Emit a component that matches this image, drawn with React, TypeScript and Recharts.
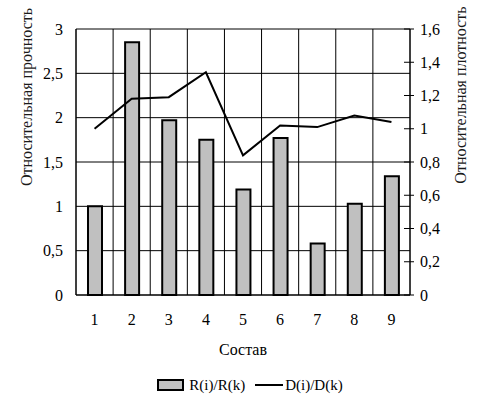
import React from "react";
import { ComposedChart, Bar, Line, XAxis, YAxis, CartesianGrid, Legend } from "recharts";

// Относительная прочность (bars, left axis) и плотность (line, right axis) по составам.

const categories = ["1", "2", "3", "4", "5", "6", "7", "8", "9"];
const strength = [1.0, 2.85, 1.97, 1.75, 1.19, 1.77, 0.58, 1.03, 1.34];
const density = [1.0, 1.18, 1.19, 1.34, 0.84, 1.02, 1.01, 1.08, 1.04];
const leftTicks = [0, 0.5, 1, 1.5, 2, 2.5, 3];
const rightTicks = [0, 0.2, 0.4, 0.6, 0.8, 1, 1.2, 1.4, 1.6];

const data = categories.map((name, i) => ({ name, r: strength[i], d: density[i] }));

const FONT = "'Liberation Serif', 'Times New Roman', Times, serif";
const FS = 16;
const fmt = (v: number) => String(v).replace(".", ",");

// vertical grid lines sit on the category boundaries, not on the ticks
const boundaryLines = ({ offset }: any) =>
  Array.from({ length: categories.length + 1 }, (_, i) => offset.left + (offset.width * i) / categories.length);

function RightTick(props: any) {
  const { x, y, payload } = props;
  return (
    <g>
      <line x1={x - 6} x2={x + 4} y1={y} y2={y} stroke="#000" strokeWidth={1} />
      <text x={x + 10} y={y} dy="0.35em" textAnchor="start" style={{ fontFamily: FONT, fontSize: FS }} fill="#000">
        {fmt(payload.value)}
      </text>
    </g>
  );
}

function LeftTitle(props: any) {
  const { viewBox } = props;
  const x = viewBox.x + 26;
  const y = 97;
  return (
    <text x={x} y={y} transform={`rotate(-90 ${x} ${y})`} textAnchor="middle" dy="0.35em"
      style={{ fontFamily: FONT, fontSize: FS }} fill="#1a1a1a">
      Относительная прочность
    </text>
  );
}

function RightTitle(props: any) {
  const { viewBox } = props;
  const x = viewBox.x + 50;
  const y = 95;
  return (
    <text x={x} y={y} transform={`rotate(-90 ${x} ${y})`} textAnchor="middle" dy="0.35em"
      style={{ fontFamily: FONT, fontSize: FS }} fill="#1a1a1a">
      Относительная плотность
    </text>
  );
}

function XTitle(props: any) {
  const { viewBox } = props;
  return (
    <text x={viewBox.x + viewBox.width / 2} y={viewBox.y + 54} dy="0.35em" textAnchor="middle"
      style={{ fontFamily: FONT, fontSize: FS }} fill="#000">
      Состав
    </text>
  );
}

const renderLegend = () => (
  <div style={{ display: "flex", justifyContent: "center", alignItems: "center", height: 24,
    fontFamily: FONT, fontSize: 15, color: "#000", paddingLeft: 14 }}>
    <span style={{ display: "inline-block", width: 23, height: 8, background: "#c0c0c0", border: "2px solid #000", marginRight: 5 }} />
    <span>R(i)/R(k)</span>
    <span style={{ display: "inline-block", width: 28, height: 0, borderTop: "2px solid #000", margin: "0 2px 0 10px" }} />
    <span>D(i)/D(k)</span>
  </div>
);

const tickStyle = { fontFamily: FONT, fontSize: FS, fill: "#000" };

export default function App() {
  return (
    <div style={{ position: "absolute", left: 0, top: 0, background: "#fff", fontFamily: FONT }}>
      <ComposedChart width={486} height={404} data={data} margin={{ top: 29, right: 0, bottom: 7, left: 0 }}
        style={{ fontFamily: FONT }}>
        <XAxis xAxisId="main" dataKey="name" height={78} tickLine={false} tickSize={0} tickMargin={19}
          axisLine={{ stroke: "#000", strokeWidth: 1 }}
          tick={tickStyle}
          label={{ content: XTitle }} />
        <YAxis yAxisId="left" orientation="left" width={76} domain={[0, 3]} ticks={leftTicks}
          tickFormatter={fmt} tickLine={false} tickSize={0} tickMargin={13}
          axisLine={{ stroke: "#000", strokeWidth: 1 }}
          tick={tickStyle}
          label={{ content: LeftTitle }} />
        <YAxis yAxisId="right" orientation="right" width={76} domain={[0, 1.6]} ticks={rightTicks}
          tickLine={false} tickSize={0} tickMargin={0}
          axisLine={{ stroke: "#000", strokeWidth: 1 }}
          tick={<RightTick />}
          label={{ content: RightTitle }} />
        <CartesianGrid xAxisId="main" yAxisId="left" stroke="#000" strokeWidth={1} strokeOpacity={1}
          verticalCoordinatesGenerator={boundaryLines} />
        <Bar xAxisId="main" yAxisId="left" dataKey="r" name="R(i)/R(k)" fill="#c0c0c0" stroke="#000"
          strokeWidth={2} barSize={14} isAnimationActive={false} />
        <Line xAxisId="main" yAxisId="right" dataKey="d" name="D(i)/D(k)" type="linear" stroke="#000"
          strokeWidth={2} dot={false} activeDot={false} isAnimationActive={false} />
        <Legend verticalAlign="bottom" content={renderLegend} />
      </ComposedChart>
    </div>
  );
}
